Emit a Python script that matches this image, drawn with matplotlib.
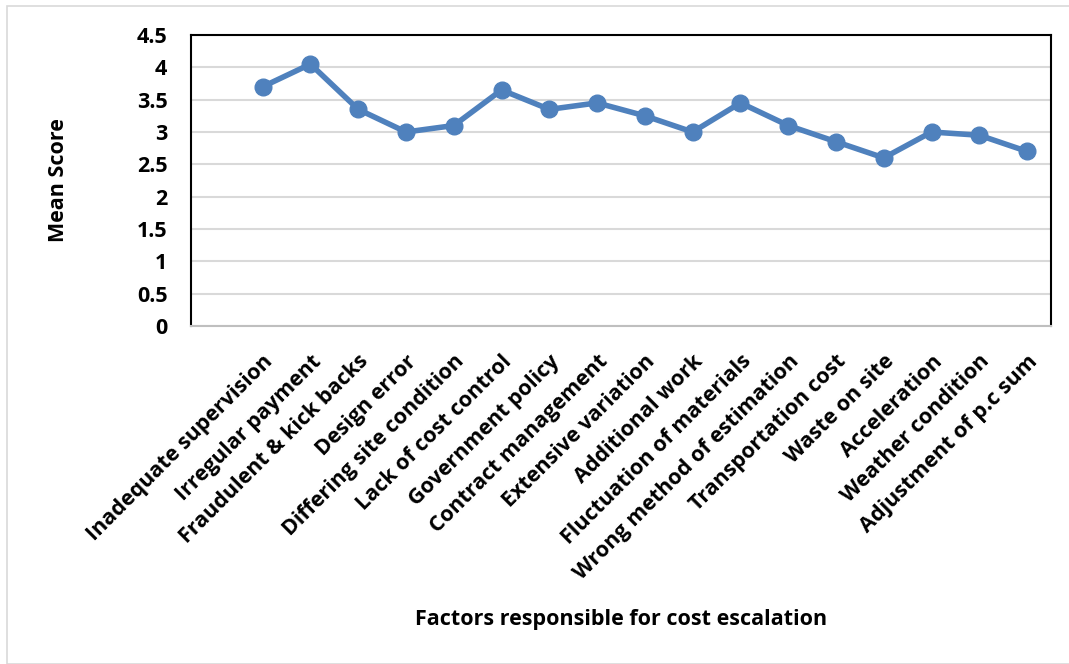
import matplotlib.pyplot as plt
from matplotlib.patches import Rectangle

factors = ['Inadequate supervision', 'Irregular payment', 'Fraudulent & kick backs',
           'Design error', 'Differing site condition', 'Lack of cost control',
           'Government policy', 'Contract management', 'Extensive variation',
           'Additional work', 'Fluctuation of materials', 'Wrong method of estimation',
           'Transportation cost', 'Waste on site', 'Acceleration', 'Weather condition',
           'Adjustment of p.c sum']
mean_scores = [3.7, 4.05, 3.35, 3.0, 3.1, 3.65, 3.35, 3.45, 3.25, 3.0, 3.45, 3.1,
               2.85, 2.6, 3.0, 2.95, 2.7]
y_ticks = [0, 0.5, 1, 1.5, 2, 2.5, 3, 3.5, 4, 4.5]
y_tick_labels = ['0', '0.5', '1', '1.5', '2', '2.5', '3', '3.5', '4', '4.5']

plt.rcParams['font.family'] = ['Open Sans', 'DejaVu Sans']

fig = plt.figure(figsize=(10.69, 6.64), dpi=100)
W, H = 1069, 664
# outer chart border
fig.patches.append(Rectangle((7 / W, 0), 1.2, 1 - 6 / H, transform=fig.transFigure,
                             fill=False, edgecolor='#d9d9d9', linewidth=1.2))

ax = fig.add_axes([191 / W, 1 - 326 / H, (1051 - 191) / W, (326 - 35) / H])
x = list(range(len(factors)))
ax.plot(x, mean_scores, color='#4f81bd', linewidth=4, marker='o', markersize=12,
        solid_joinstyle='round')
ax.set_xlim(-1.5, len(factors) - 0.5)
ax.set_ylim(0, 4.5)
ax.set_yticks(y_ticks)
ax.set_yticklabels(y_tick_labels, fontsize=15.5, fontweight='bold')
ax.set_xticks(x)
ax.set_xticklabels(factors, rotation=45, ha='right', rotation_mode='anchor',
                   fontsize=15.5, fontweight='bold')
ax.tick_params(axis='both', length=0)
ax.tick_params(axis='y', pad=17)
ax.tick_params(axis='x', pad=18)
ax.yaxis.grid(True, color='#d9d9d9', linewidth=1.5)
ax.set_axisbelow(True)
for side in ['left', 'top', 'right']:
    ax.spines[side].set_color('black')
    ax.spines[side].set_linewidth(1.5)
ax.spines['bottom'].set_color('#bfbfbf')
ax.spines['bottom'].set_linewidth(1.5)

fig.text(58 / W, 1 - 180 / H, 'Mean Score', rotation=90, ha='center', va='center',
         fontsize=15.5, fontweight='bold')
fig.text(621 / W, 1 - 620 / H, 'Factors responsible for cost escalation',
         ha='center', va='center', fontsize=15.5, fontweight='bold')

plt.savefig('out.png', dpi=100)
